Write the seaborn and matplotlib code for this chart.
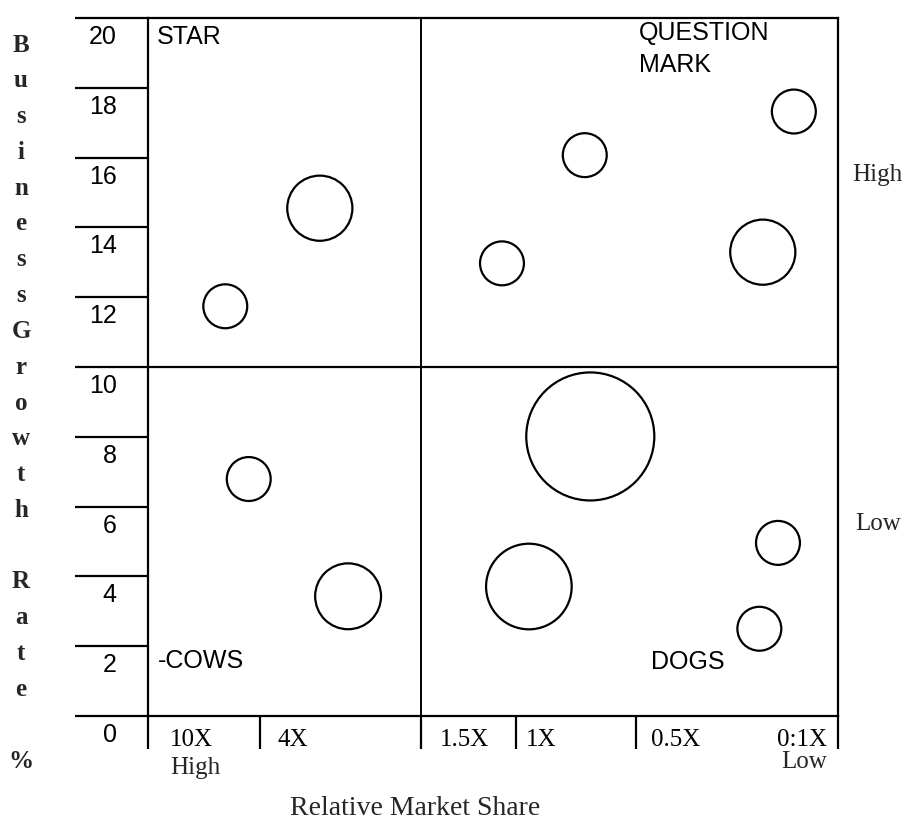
import numpy as np
import pandas as pd
import seaborn as sns
import matplotlib.pyplot as plt
from matplotlib.transforms import ScaledTranslation

sns.set_style('white')
plt.rcParams['font.family'] = ['Liberation Serif', 'DejaVu Serif']

# bubbles: position on relative market share scale (0 = 10X ... 10 = 0.1X),
# growth rate in %, and business size (bubble area)
share_pos = [1.12, 2.49, 5.13, 6.33, 8.91, 9.36, 1.46, 2.90, 5.52, 6.41, 8.86, 9.13]
growth = [11.74, 14.55, 12.97, 16.07, 13.29, 17.32, 6.79, 3.43, 3.71, 8.01, 2.50, 4.96]
revenue = [1.0, 2.2, 1.0, 1.0, 2.2, 1.0, 1.0, 2.25, 3.8, 8.5, 1.0, 1.0]

share_ticks = [0, 1.62, 3.96, 5.33, 7.07, 10]
share_labels = ['10X', '4X', '1.5X', '1X', '0.5X', '0:1X']
growth_ticks = [0, 2, 4, 6, 8, 10, 12, 14, 16, 18, 20]

df = pd.DataFrame({'share': share_pos, 'growth': growth, 'revenue': revenue})

fig = plt.figure(figsize=(9.05, 8.23), dpi=100)
ax = fig.add_axes([148 / 905, 107 / 823, 690 / 905, 698 / 823])

sns.scatterplot(data=df, x='share', y='growth', size='revenue',
                sizes=(1000, 8500), size_norm=(1, 8.5), color='black',
                facecolor='none', edgecolor='black', linewidth=1.6,
                legend=False, ax=ax)

ax.set_xlim(0, 10)
ax.set_ylim(0, 20)
for sp in ax.spines.values():
    sp.set_visible(True)
    sp.set_color('black')
    sp.set_linewidth(1.6)

# quadrant dividers
ax.axvline(share_ticks[2], color='black', lw=1.4)
ax.axhline(10, color='black', lw=1.6)

# y ticks: long lines to the left, numbers sitting under them
ax.set_yticks(growth_ticks)
ax.set_yticklabels([str(v) for v in growth_ticks], family='Liberation Sans', fontsize=18)
ax.tick_params(axis='y', left=True, direction='out', length=52.5, width=1.6, pad=-30,
               colors='black')
for lbl in ax.get_yticklabels():
    lbl.set_transform(lbl.get_transform() + ScaledTranslation(0, -0.165, fig.dpi_scale_trans))

# x ticks: short marks under the axis, labels beside them
ax.set_xticks(share_ticks)
ax.set_xticklabels(share_labels, fontsize=18)
ax.tick_params(axis='x', bottom=True, direction='out', length=24, width=1.6, pad=-15,
               colors='black')
x_offsets = [22, 18, 19, 10, 15, -11]
for lbl, dx in zip(ax.get_xticklabels(), x_offsets):
    lbl.set_ha('left' if dx > 0 else 'right')
    lbl.set_transform(lbl.get_transform() + ScaledTranslation(dx / 100, 0, fig.dpi_scale_trans))

ax.set_xlabel('Relative Market Share', fontsize=20, va='center')
ax.xaxis.set_label_coords(0.387, -0.132)
ax.set_ylabel('')

ax.annotate('High', xy=(share_ticks[0], 0), xytext=(22, -52), textcoords='offset pixels',
            ha='left', va='center', fontsize=18)
ax.annotate('Low', xy=(share_ticks[-1], 0), xytext=(-11, -46), textcoords='offset pixels',
            ha='right', va='center', fontsize=18)

# growth High / Low on the right
ax.text(1.02, 15.5, 'High', transform=ax.get_yaxis_transform(), ha='left', va='center', fontsize=18)
ax.text(1.025, 5.5, 'Low', transform=ax.get_yaxis_transform(), ha='left', va='center', fontsize=18)

# quadrant names
qfont = dict(family='Liberation Sans', fontsize=18, color='black')
ax.text(0.13, 19.45, 'STAR', ha='left', va='center', **qfont)
ax.text(7.12, 19.9, 'QUESTION\nMARK', ha='left', va='top', linespacing=1.4, **qfont)
ax.text(0.14, 1.58, '-COWS', ha='left', va='center', **qfont)
ax.text(7.29, 1.55, 'DOGS', ha='left', va='center', **qfont)

# vertical stacked y-axis title
ytitle = 'BusinessGrowth Rate %'
for i, ch in enumerate(ytitle):
    if ch != ' ':
        fig.text(21 / 905, 1 - (45 + i * 35.8) / 823, ch, ha='center', va='center',
                 fontsize=18, fontweight='bold')

fig.savefig('out.png', dpi=100, facecolor='white')
